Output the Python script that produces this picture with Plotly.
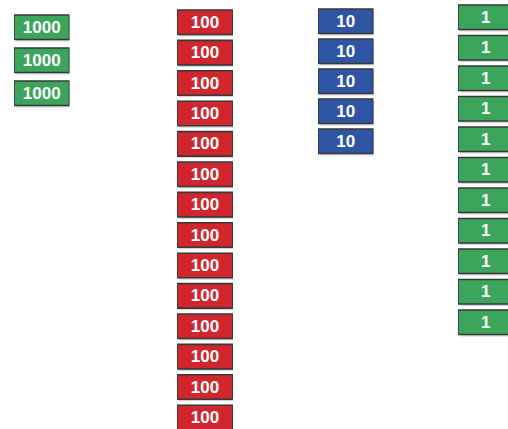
import plotly.graph_objects as go

# ---- data ----
place_values = ["1000", "100", "10", "1"]
block_counts = [3, 14, 5, 11]

# ---- styles / layout (pixels) ----
colors = ["#3ba55c", "#d1262e", "#2e54a4", "#3ba55c"]
fig_w, fig_h = 508, 429
col_left = [14, 177, 318, 458]
col_width = [55.5, 56, 55.5, 55.5]
row_top = [15, 10, 9, 5]
row_step = [33, 30.4, 30, 30.5]
block_h = 24.5
shadow_px = 2

fig = go.Figure()
layout_axes = {}
for k, (label, n) in enumerate(zip(place_values, block_counts)):
    ax = "" if k == 0 else str(k + 1)
    l, w = col_left[k], col_width[k]
    r = min(fig_w, l + w)
    s, y0 = row_step[k], row_top[k]
    rows = list(range(n))
    # shadow
    fig.add_trace(go.Bar(
        x=[0.5 + shadow_px / w] * n, y=[block_h / s] * n,
        base=[i + shadow_px / s for i in rows], width=1,
        marker=dict(color="#d4d4d4", line=dict(width=0)),
        xaxis="x" + ax, yaxis="y" + ax, hoverinfo="skip", showlegend=False,
    ))
    fig.add_trace(go.Bar(
        x=[0.5] * n, y=[block_h / s] * n, base=rows, width=1,
        text=[label] * n, textposition="inside", insidetextanchor="middle",
        constraintext="none", textangle=0,
        textfont=dict(family="Liberation Sans, Arial", size=17, color="white", weight="bold"),
        marker=dict(color=colors[k], line=dict(color="#383838", width=1.6)),
        xaxis="x" + ax, yaxis="y" + ax, showlegend=False,
    ))
    layout_axes["xaxis" + ax] = dict(domain=[l / fig_w, r / fig_w], range=[0, (r - l) / w],
                                     visible=False, fixedrange=True, anchor="y" + ax)
    layout_axes["yaxis" + ax] = dict(domain=[0, 1], range=[(fig_h - y0) / s, -y0 / s],
                                     visible=False, fixedrange=True, anchor="x" + ax)

fig.update_layout(
    width=fig_w, height=fig_h, margin=dict(l=0, r=0, t=0, b=0),
    barmode="overlay", paper_bgcolor="white", plot_bgcolor="white",
    **layout_axes,
)
fig.write_html(
    "out.html",
    config={"displayModeBar": False},
    post_script="document.body.style.margin='0';document.body.style.overflow='hidden';",
)
